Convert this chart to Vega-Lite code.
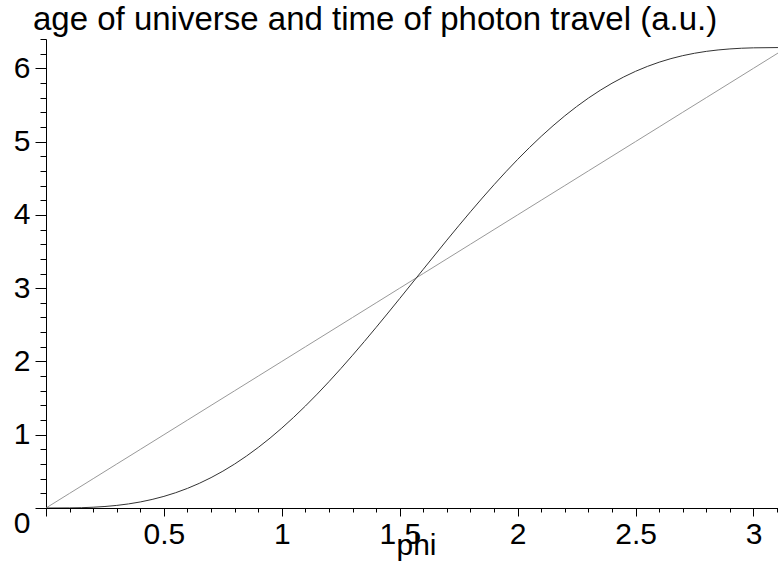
{
  "$schema": "https://vega.github.io/schema/vega-lite/v6.json",
  "autosize": "none",
  "padding": {"left": 46, "top": 39, "right": 0, "bottom": 63},
  "width": 732,
  "height": 469,
  "background": "white",
  "title": {
    "text": "age of universe and time of photon travel (a.u.)",
    "anchor": "start",
    "frame": "group",
    "dx": -13,
    "offset": 2,
    "font": "Liberation Sans",
    "fontSize": 33,
    "fontWeight": "normal",
    "color": "black"
  },
  "config": {
    "view": {"stroke": null},
    "axis": {"grid": false, "domainColor": "black", "tickColor": "black", "labelColor": "black", "titleColor": "black", "labelFont": "Liberation Sans", "titleFont": "Liberation Sans", "labelFontSize": 30, "titleFontSize": 30, "titleFontWeight": "normal", "domainWidth": 1, "tickWidth": 1}
  },
  "data": {"values": [
    {"phi": 0.0, "age": 0.0, "photon": 0.0},
    {"phi": 0.1, "age": 0.001331, "photon": 0.2},
    {"phi": 0.2, "age": 0.010582, "photon": 0.4},
    {"phi": 0.3, "age": 0.035358, "photon": 0.6},
    {"phi": 0.4, "age": 0.082644, "photon": 0.8},
    {"phi": 0.5, "age": 0.158529, "photon": 1.0},
    {"phi": 0.6, "age": 0.267961, "photon": 1.2},
    {"phi": 0.7, "age": 0.41455, "photon": 1.4},
    {"phi": 0.8, "age": 0.600426, "photon": 1.6},
    {"phi": 0.9, "age": 0.826152, "photon": 1.8},
    {"phi": 1.0, "age": 1.090703, "photon": 2.0},
    {"phi": 1.1, "age": 1.391504, "photon": 2.2},
    {"phi": 1.2, "age": 1.724537, "photon": 2.4},
    {"phi": 1.3, "age": 2.084499, "photon": 2.6},
    {"phi": 1.4, "age": 2.465012, "photon": 2.8},
    {"phi": 1.5, "age": 2.85888, "photon": 3.0},
    {"phi": 1.6, "age": 3.258374, "photon": 3.2},
    {"phi": 1.7, "age": 3.655541, "photon": 3.4},
    {"phi": 1.8, "age": 4.04252, "photon": 3.6},
    {"phi": 1.9, "age": 4.411858, "photon": 3.8},
    {"phi": 2.0, "age": 4.756802, "photon": 4.0},
    {"phi": 2.1, "age": 5.071576, "photon": 4.2},
    {"phi": 2.2, "age": 5.351602, "photon": 4.4},
    {"phi": 2.3, "age": 5.593691, "photon": 4.6},
    {"phi": 2.4, "age": 5.796165, "photon": 4.8},
    {"phi": 2.5, "age": 5.958924, "photon": 5.0},
    {"phi": 2.6, "age": 6.083455, "photon": 5.2},
    {"phi": 2.7, "age": 6.172764, "photon": 5.4},
    {"phi": 2.8, "age": 6.231267, "photon": 5.6},
    {"phi": 2.9, "age": 6.264602, "photon": 5.8},
    {"phi": 3.0, "age": 6.279415, "photon": 6.0},
    {"phi": 3.1, "age": 6.283089, "photon": 6.2},
    {"phi": 3.141593, "age": 6.283185, "photon": 6.283185}
  ]},
  "resolve": {"axis": {"x": "independent", "y": "independent"}},
  "layer": [
    {
      "mark": {"type": "line", "color": "#999999", "strokeWidth": 1, "clip": true},
      "encoding": {
        "x": {"field": "phi", "type": "quantitative", "scale": {"domain": [0, 3.104], "nice": false, "zero": false},
          "axis": {"orient": "bottom", "values": [0, 0.1, 0.2, 0.3, 0.4, 0.5, 0.6, 0.7, 0.8, 0.9, 1, 1.1, 1.2, 1.3, 1.4, 1.5, 1.6, 1.7, 1.8, 1.9, 2, 2.1, 2.2, 2.3, 2.4, 2.5, 2.6, 2.7, 2.8, 2.9, 3, 3.1], "labels": false, "tickSize": 4, "domain": false, "title": null}},
        "y": {"field": "photon", "type": "quantitative", "scale": {"domain": [0, 6.4], "nice": false},
          "axis": {"orient": "left", "values": [0, 0.2, 0.4, 0.6, 0.8, 1, 1.2, 1.4, 1.6, 1.8, 2, 2.2, 2.4, 2.6, 2.8, 3, 3.2, 3.4, 3.6, 3.8, 4, 4.2, 4.4, 4.6, 4.8, 5, 5.2, 5.4, 5.6, 5.8, 6, 6.2, 6.4], "labels": false, "tickSize": 6, "domain": false, "title": null}}
      }
    },
    {
      "mark": {"type": "line", "color": "#333333", "strokeWidth": 1, "interpolate": "monotone", "clip": true},
      "encoding": {
        "x": {"field": "phi", "type": "quantitative",
          "axis": {"orient": "bottom", "values": [0, 0.5, 1, 1.5, 2, 2.5, 3], "labelExpr": "datum.value == 0 ? '' : toString(datum.value)", "labelFontSize": 30, "labelFont": "Liberation Sans", "tickSize": 8, "labelPadding": 3, "title": "phi", "titleFontSize": 30, "titleX": 370, "titleY": 22, "titleBaseline": "top"}},
        "y": {"field": "age", "type": "quantitative",
          "axis": {"orient": "left", "values": [0, 1, 2, 3, 4, 5, 6], "format": "d", "labelFontSize": 30, "labelFont": "Liberation Sans", "tickSize": 11, "labelPadding": 5, "labelBaseline": {"condition": {"test": "datum.value == 0", "value": "top"}, "value": "middle"}, "title": null}}
      }
    }
  ]
}
